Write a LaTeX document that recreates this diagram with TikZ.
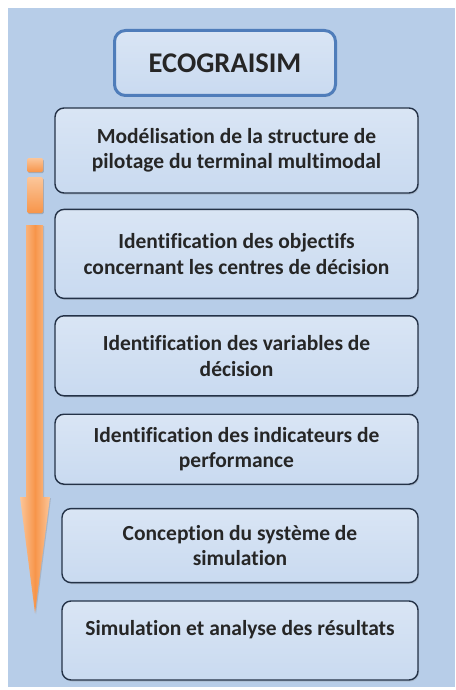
\documentclass[tikz,border=0pt]{standalone}
\usepackage{fontspec}
\setmainfont[Ligatures=NoCommon]{Carlito}
\usepackage{xcolor}
\usepackage{tikz}
\usetikzlibrary{positioning,shadows}
\definecolor{ecoback}{HTML}{B7CDE8}
\definecolor{ecofill}{HTML}{C9DAF0}
\definecolor{ecoline}{HTML}{243247}
\definecolor{ecoblue}{HTML}{4F7DBA}
\definecolor{ecoorange}{HTML}{F7954A}
\definecolor{ecopeach}{HTML}{FBC69A}
\tikzset{
  etape/.style={draw=ecoline,line width=1.4pt,rounded corners=9pt,
    top color=ecofill!70!white,bottom color=ecofill,
    drop shadow={shadow xshift=1pt,shadow yshift=-1.5pt,opacity=.25},
    minimum width=363pt,align=center,text=black!85,
    font=\fontsize{21.5}{25.5}\selectfont\bfseries},
  titre/.style={etape,draw=ecoblue,line width=3pt,rounded corners=11pt,
    minimum width=221pt,minimum height=65pt,
    font=\fontsize{28.5}{32}\selectfont\bfseries},
  puce/.style={draw=none,rounded corners=1.5pt,top color=ecopeach,
    bottom color=ecoorange,drop shadow={shadow xshift=.8pt,shadow yshift=-1.2pt,opacity=.45}},
}
\begin{document}
\begin{tikzpicture}[x=1pt,y=1pt]
\useasboundingbox (0,0) rectangle (455,-690);
\fill[ecoback] (8,-8) rectangle (455,-687);
% the steps
\node[titre] (eco) at (225,-63) {ECOGRAISIM};
\node[etape,minimum height=85pt] (mod) at (236.5,-150.5) {Modélisation de la structure de\\pilotage du terminal multimodal};
\node[etape,minimum height=89pt,below=15pt of mod] (obj) {Identification des objectifs\\concernant les centres de décision};
\node[etape,minimum height=80pt,below=16pt of obj] (var) {Identification des variables de\\décision};
\node[etape,minimum height=70pt,below=17pt of var] (ind) {Identification des indicateurs de\\performance};
\node[etape,minimum width=356pt,minimum height=74pt,below=23pt of ind,xshift=3.5pt] (con) {Conception du système de\\simulation};
\node[etape,minimum width=356pt,minimum height=79pt,below=17pt of con] (sim) {Simulation et analyse des résultats\\\mbox{}};
% the orange arrow on the left
\path[puce] (27,-158) rectangle (43,-172);
\path[puce] (27,-177) rectangle (43,-213);
\shade[left color=ecopeach,right color=ecopeach,middle color=ecoorange,
  drop shadow={shadow xshift=1pt,shadow yshift=-1pt,opacity=.3}]
  (26,-225) -- (43,-225) -- (43,-497) -- (50,-497) -- (35,-613)
  -- (20,-497) -- (26,-497) -- cycle;
\end{tikzpicture}
\end{document}
